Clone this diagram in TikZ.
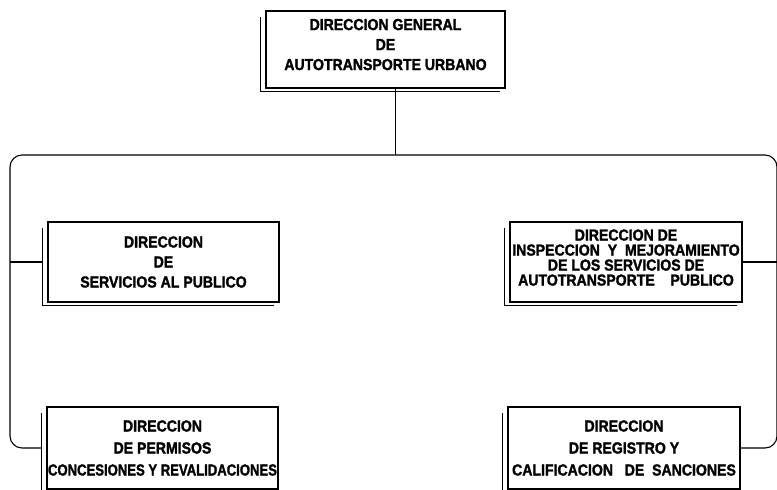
\documentclass[tikz,border=0pt]{standalone}
\usepackage{fontspec}
\newfontfamily\orgfont{Liberation Sans}[FakeStretch=0.88,FakeBold=1.6]
\usetikzlibrary{calc,positioning}

\tikzset{
  oficina/.style={draw, line width=1.1pt, align=center, inner sep=0pt,
    font=\orgfont\bfseries\fontsize{16}{20}\selectfont},
  sombra/.style={line width=1.1pt},
  liga/.style={line width=1.1pt}
}

\begin{document}
\begin{tikzpicture}[x=1pt,y=-1pt]
		\useasboundingbox (0,0) rectangle (777,490);
		
		% direccion general
		\node[oficina, minimum width=239pt, minimum height=77pt] (dirgen) at (385.5,49.5)
			{DIRECCION GENERAL\\DE\\AUTOTRANSPORTE URBANO\\[-10pt]{}};
		
		% direcciones de area
		\node[oficina, minimum width=231pt, minimum height=80pt] (servpub) at (163.5,262)
			{DIRECCION\\DE\\SERVICIOS AL PUBLICO};
		\node[oficina, minimum width=232pt, minimum height=80pt,
			font=\orgfont\bfseries\fontsize{16}{15}\selectfont] (inspec) at (626,262)
			{DIRECCION DE\\INSPECCION\ \ Y\ \ MEJORAMIENTO\\DE LOS SERVICIOS DE\\AUTOTRANSPORTE\ \ \ \ PUBLICO\\[-6pt]{}};
		\node[oficina, minimum width=231pt, minimum height=82pt,
			font=\orgfont\bfseries\fontsize{16}{22}\selectfont] (permisos) at (162.5,448)
			{DIRECCION\\DE PERMISOS\\\scalebox{0.93}[1]{CONCESIONES Y REVALIDACIONES}};
		\node[oficina, minimum width=232pt, minimum height=82pt,
			font=\orgfont\bfseries\fontsize{16}{22}\selectfont] (registro) at (624,448)
			{DIRECCION\\DE REGISTRO Y\\CALIFICACION\ \ \ DE\ \ SANCIONES};
		
		% sombras
		\foreach \n in {dirgen,servpub,inspec,permisos,registro}{
			\draw[sombra] ($(\n.north west)+(-5,7)$) -- ($(\n.south west)+(-5,3)$)
				-- ($(\n.south east)+(-6,3)$);
		}
		
		% lineas de mando
		\coordinate (busL) at (10,155);
		\coordinate (busR) at (777,155);
		\draw[liga] ([xshift=10pt]dirgen.south) -- ([xshift=10pt]dirgen.south |- busL);
		\draw[liga, rounded corners=12pt] ([xshift=-5pt]permisos.west) -- (permisos.west -| busL)
			-- (busL) -- (busR) -- (registro.east -| busR) -- (registro.east);
		\draw[liga] (servpub.west -| busL) -- ([xshift=-5pt]servpub.west);
		\draw[liga] (inspec.east) -- (inspec.east -| busR);
\end{tikzpicture}
\end{document}
